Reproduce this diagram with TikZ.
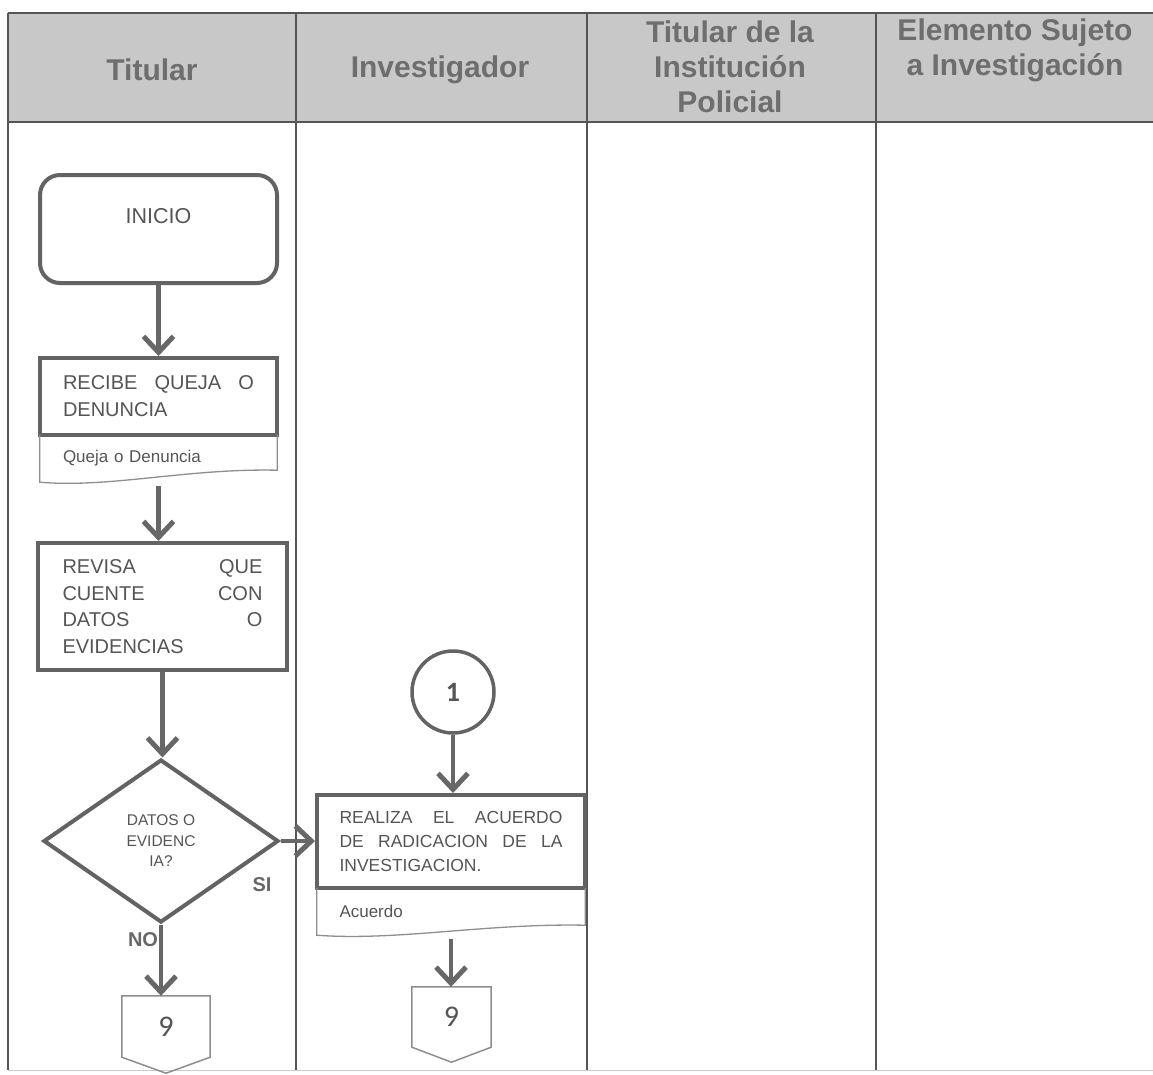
\documentclass[tikz,border=0pt]{standalone}
\usepackage{fontspec}
\setmainfont{Liberation Sans}
\newfontfamily\numfont{Carlito}
\usetikzlibrary{arrows.meta,shapes.geometric}

\definecolor{hdrfill}{HTML}{C8C8C8}
\definecolor{hdrtext}{HTML}{6E6E6E}
\definecolor{boxline}{HTML}{636363}
\definecolor{flowline}{HTML}{676767}
\definecolor{txt}{HTML}{555555}
\definecolor{thinline}{HTML}{8E8E8E}
\definecolor{gridline}{HTML}{555555}

% one justified line of a process box
\newcommand\jline[1]{\makebox[\linewidth]{#1}}

\begin{document}
\begin{tikzpicture}[x=1pt,y=-1pt,
  hdr/.style={text=hdrtext, font=\fontsize{30}{35}\selectfont\bfseries, align=center, inner sep=0pt},
  procbox/.style={draw=boxline, line width=4pt, fill=white, text=txt, align=left, inner sep=0pt},
  docbox/.style={text=txt, font=\fontsize{17}{20}\selectfont, align=left, inner sep=0pt},
  docline/.style={draw=thinline, line width=1.3pt},
  offpage/.style={text=txt, font=\numfont\fontsize{30}{32}\selectfont, inner sep=0pt},
  offline/.style={draw=thinline, line width=1.5pt},
  flow/.style={draw=flowline, line width=4.5pt, -{Straight Barb[length=16pt,width=30pt,line width=5pt]}},
  lbl/.style={text=flowline, font=\fontsize{20}{24}\selectfont\bfseries, inner sep=0pt}
]
\useasboundingbox (0,0) rectangle (1153,1074);

% swimlane table
\fill[hdrfill] (8,13) rectangle (1153,122);
\draw[gridline, line width=1.2pt] (8,13) -- (1153,13);
\draw[gridline, line width=2pt] (8,122) -- (1153,122);
\foreach \x in {8,296,587,876}
  \draw[gridline, line width=1.2pt] (\x,13) -- (\x,1070);
\draw[black!20, line width=1pt] (8,1070) -- (1153,1070);

% lane titles
\node[hdr] (h1) at (152,70) {Titular};
\node[hdr] (h2) at (440,70) {Investigador};
\node[hdr] (h3) at (730,67) {Titular de la\\Institución\\Policial};
\node[hdr] (h4) at (1015,50) {Elemento Sujeto\\a Investigación};

% start
\node[procbox, rounded corners=20pt, minimum width=237pt, minimum height=108pt,
      font=\fontsize{21.5}{24}\selectfont, text height=15pt, text depth=27pt]
      (inicio) at (158.5,229) {INICIO};

% receive complaint
\node[procbox, minimum width=237pt, minimum height=77pt, text width=191pt,
      font=\fontsize{20}{27}\selectfont]
      (recibe) at (158.5,396.5) {\jline{RECIBE\hfill QUEJA\hfill O}\\DENUNCIA};
\node[docbox, minimum width=237pt, minimum height=47pt, text width=191pt]
      (doc1) at (158.5,458.5) {Queja o Denuncia};
\draw[docline] (doc1.north west) -- (doc1.south west)
  .. controls +(70,6) and +(-90,-2) .. ([yshift=12pt]doc1.south east) -- (doc1.north east);

% review
\node[procbox, minimum width=249pt, minimum height=127pt, text width=200pt,
      font=\fontsize{20}{26.7}\selectfont]
      (revisa) at (162.5,606.5)
      {\jline{REVISA\hfill QUE}\\\jline{CUENTE\hfill CON}\\\jline{DATOS\hfill O}\\EVIDENCIAS};

% decision
\node[diamond, draw=boxline, line width=4pt, fill=white, minimum width=235pt,
      minimum height=163pt, inner sep=0pt, text=txt, align=center,
      font=\fontsize{15.5}{20.5}\selectfont]
      (dato) at (161,841) {DATOS O\\EVIDENC\\IA?};

% connector 1 and agreement
\node[circle, draw=boxline, line width=3.5pt, fill=white, minimum size=82pt,
      inner sep=0pt, text=txt, font=\numfont\fontsize{28}{30}\selectfont\bfseries]
      (c1) at (453,692) {1};
\node[procbox, minimum width=268pt, minimum height=93pt, text width=223pt,
      font=\fontsize{17.5}{24}\selectfont]
      (realiza) at (451,841.5)
      {\jline{REALIZA\hfill EL\hfill ACUERDO}\\\jline{DE\hfill RADICACION\hfill DE\hfill LA}\\INVESTIGACION.};
\node[docbox, minimum width=268pt, minimum height=47pt, text width=223pt]
      (doc2) at (451,911.5) {Acuerdo};
\draw[docline] (doc2.north west) -- (doc2.south west)
  .. controls +(80,6) and +(-100,-2) .. ([yshift=10pt]doc2.south east) -- (doc2.north east);

% off-page connectors
\node[offpage, minimum width=88pt, minimum height=61pt] (off1) at (166,1026.5) {9};
\draw[offline] (off1.north west) -- (off1.south west) -- ([yshift=-16pt]off1.south)
  -- (off1.south east) -- (off1.north east) -- cycle;
\node[offpage, minimum width=79pt, minimum height=60pt] (off2) at (451.5,1017) {9};
\draw[offline] (off2.north west) -- (off2.south west) -- ([yshift=-15pt]off2.south)
  -- (off2.south east) -- (off2.north east) -- cycle;

% flow
\draw[flow] (inicio.south) -- (recibe.north);
\draw[flow, shorten <=4pt] (doc1.south) -- (revisa.north -| doc1.south);
\draw[flow] (revisa.south) -- (dato.north -| revisa.south);
\draw[flow] (dato.south) -- (dato.south |- off1.north);
\draw[flow] (dato.east) -- (dato.east -| realiza.west);
\draw[flow] (c1.south) -- (c1.south |- realiza.north);
\draw[flow, shorten <=4pt] (doc2.south) -- (doc2.south |- off2.north);

% branch labels
\node[lbl] (si) at (262,885) {SI};
\node[lbl] (no) at (143,940) {NO};
\end{tikzpicture}
\end{document}
